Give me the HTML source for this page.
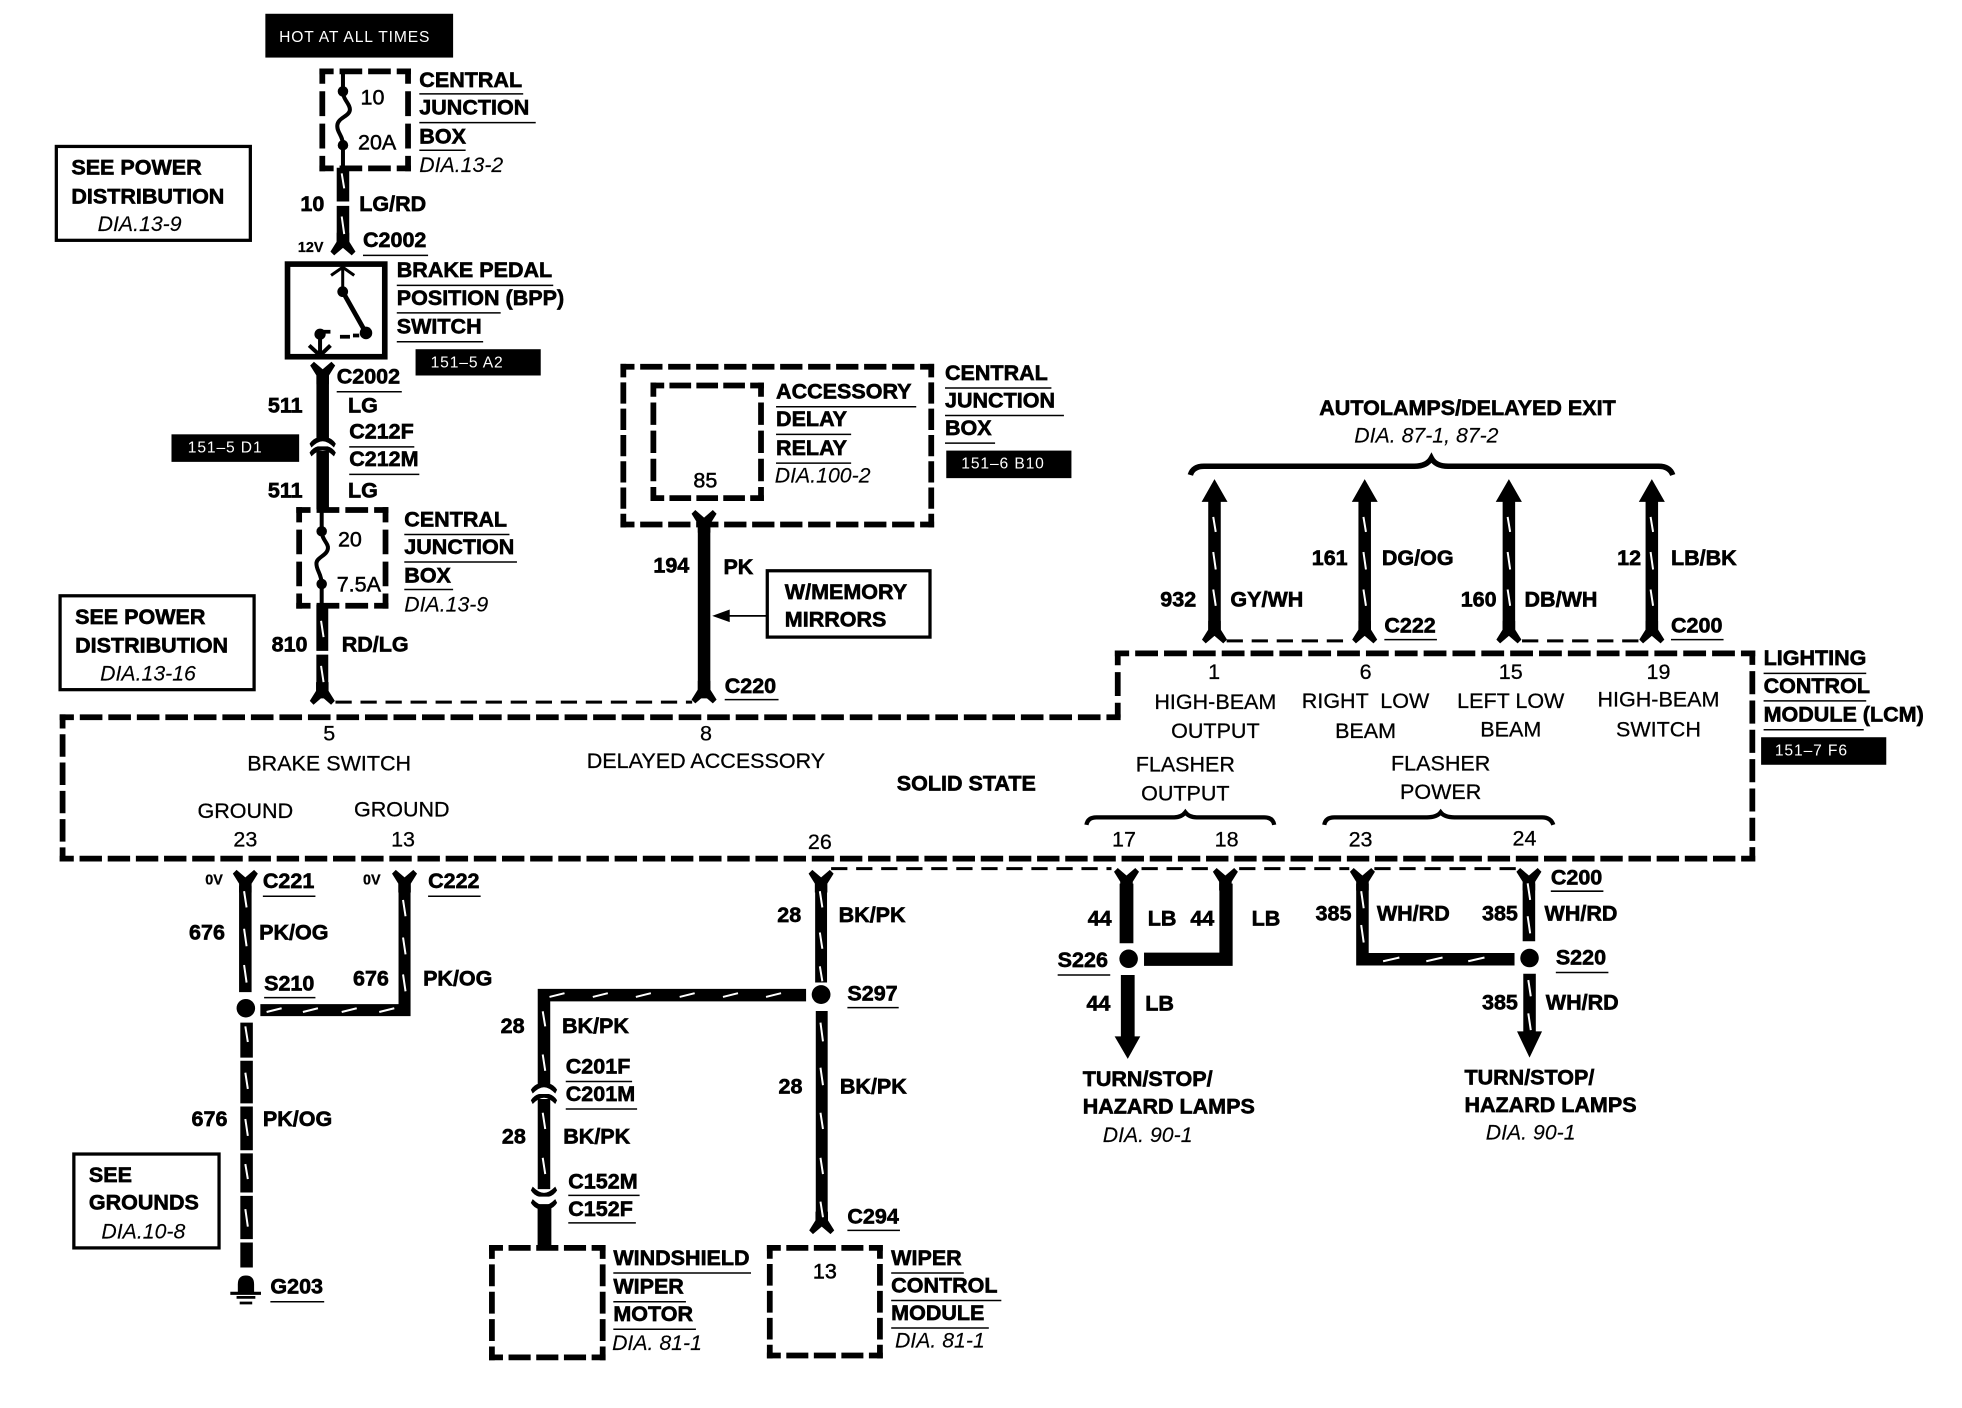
<!DOCTYPE html>
<html><head><meta charset="utf-8"><style>
html,body{margin:0;padding:0;background:#fff}
svg{display:block}
text{font-family:"Liberation Sans",sans-serif;font-size:17.2px;fill:#000;stroke:#000;stroke-width:.22px;transform:translate(0,-.5px)}
.b{font-weight:bold;stroke-width:.5px}
.i{font-style:italic;font-size:17px;stroke-width:.1px}
.c{text-anchor:middle}
.w{fill:#fff;stroke:none;font-size:12.5px;letter-spacing:.7px}
.s{font-weight:bold;font-size:11.5px}
.box{fill:none;stroke:#000;stroke-width:2.6}
.d{fill:none;stroke:#000;stroke-width:4.6;stroke-dasharray:13 9;stroke-dashoffset:6.5;stroke-linecap:square}
.t{fill:none;stroke:#000;stroke-width:2.4;stroke-dasharray:13 7}
.u{fill:none;stroke:#000;stroke-width:1.2}
.k{fill:none;stroke:#000;stroke-width:10}
.sl{fill:none;stroke:#fff;stroke-width:1.6}
.br{fill:none;stroke:#000;stroke-width:4.4}
.l{fill:none;stroke:#000;stroke-width:3.2}
</style></head><body>
<svg xmlns="http://www.w3.org/2000/svg" width="1962" height="1408" viewBox="0 0 1567.5 1124.9">
<defs>
<path id="f" d="M-10,-6 L-7,-9 L0,-3 L7,-9 L10,-6 L5,2 V9 H-5 V2Z"/>
<path id="con" d="M-10.5,3 Q-8,-1 -4,-2 H4 Q8,-1 10.5,3 L9,6 Q4,1 0,1 Q-4,1 -9,6Z"/>
</defs>
<rect width="1567.5" height="1124.9" fill="#fff"/>

<!-- black tags -->
<rect x="212" y="11" width="150" height="35"/><text class="w" x="223" y="34">HOT AT ALL TIMES</text>
<rect x="332" y="279" width="100" height="21"/><text class="w" x="344" y="294">151–5 A2</text>
<rect x="137" y="347" width="102" height="22"/><text class="w" x="150" y="362">151–5 D1</text>
<rect x="756" y="360" width="100" height="22"/><text class="w" x="768" y="375">151–6 B10</text>
<rect x="1407" y="589" width="100" height="22"/><text class="w" x="1418" y="604">151–7 F6</text>

<!-- see boxes -->
<rect class="box" x="45" y="117" width="155" height="75"/>
<text class="b" x="57" y="140">SEE POWER</text><text class="b" x="57" y="163">DISTRIBUTION</text><text class="i" x="78" y="185">DIA.13-9</text>
<rect class="box" x="48" y="476" width="155" height="75"/>
<text class="b" x="60" y="499">SEE POWER</text><text class="b" x="60" y="522">DISTRIBUTION</text><text class="i" x="80" y="544">DIA.13-16</text>
<rect class="box" x="59" y="922" width="116" height="75"/>
<text class="b" x="71" y="945">SEE</text><text class="b" x="71" y="967">GROUNDS</text><text class="i" x="81" y="990">DIA.10-8</text>
<rect class="box" x="613" y="456" width="130" height="53"/>
<text class="b" x="627" y="479">W/MEMORY</text><text class="b" x="627" y="501">MIRRORS</text>
<path d="M613,492H582" stroke="#000" stroke-width="1.4"/><path d="M569,492L583,487V497Z"/>

<!-- dashed boxes, each side drawn so dashes meet at corners -->
<path class="d" pathLength="66" d="M257.5,57H326"/><path class="d" pathLength="66" d="M326,57V134.5"/><path class="d" pathLength="66" d="M326,134.5H257.5"/><path class="d" pathLength="66" d="M257.5,134.5V57"/>
<path class="d" pathLength="66" d="M239,407.5H308"/><path class="d" pathLength="66" d="M308,407.5V484"/><path class="d" pathLength="66" d="M308,484H239"/><path class="d" pathLength="66" d="M239,484V407.5"/>
<path class="d" pathLength="242" d="M498,293H744"/><path class="d" pathLength="132" d="M744,293V419"/><path class="d" pathLength="242" d="M744,419H498"/><path class="d" pathLength="132" d="M498,419V293"/>
<path class="d" pathLength="88" d="M522,308H608"/><path class="d" pathLength="88" d="M608,308V398"/><path class="d" pathLength="88" d="M608,398H522"/><path class="d" pathLength="88" d="M522,398V308"/>
<path class="d" pathLength="88" d="M393,997H481.5"/><path class="d" pathLength="88" d="M481.5,997V1084.5"/><path class="d" pathLength="88" d="M481.5,1084.5H393"/><path class="d" pathLength="88" d="M393,1084.5V997"/>
<path class="d" pathLength="88" d="M615,997H703"/><path class="d" pathLength="88" d="M703,997V1083"/><path class="d" pathLength="88" d="M703,1083H615"/><path class="d" pathLength="88" d="M615,1083V997"/>
<!-- LCM outline -->
<path class="d" pathLength="44" d="M893,571V522"/><path class="d" pathLength="484" d="M893,522H1400"/><path class="d" pathLength="154" d="M1400,522V686"/><path class="d" pathLength="1320" d="M1400,686H50"/><path class="d" pathLength="110" d="M50,686V573"/><path class="d" pathLength="814" d="M50,573H893"/>

<!-- fuse 1 -->
<path class="l" d="M274,57V73M274,116V135"/>
<path class="l" d="M274,73C274,80 280,83 279.5,88C279,93 270,94 269.5,100C269,106 274,108 274,116"/>
<circle cx="274" cy="73" r="4.2"/><circle cx="274" cy="116" r="4.2"/>
<text x="288" y="84" style="stroke-width:.4px">10</text><text x="286" y="120" style="stroke-width:.4px">20A</text>
<text class="b" x="335" y="70">CENTRAL</text><path class="u" d="M335,75H418"/>
<text class="b" x="335" y="92">JUNCTION</text><path class="u" d="M335,98H428"/>
<text class="b" x="335" y="115">BOX</text><path class="u" d="M335,120H372"/>
<text class="i" x="335" y="138">DIA.13-2</text>

<!-- wire 10 -->
<path class="k" d="M274,134V161M274,164.5V198"/>
<use href="#f" transform="translate(274,195) scale(1,-1)"/>
<path class="sl" d="M273,138.5l2,12M273,173l2,14"/>
<text class="b" x="240" y="169">10</text><text class="b" x="287" y="169">LG/RD</text>
<text class="s" x="238" y="202">12V</text>
<text class="b" x="290" y="198">C2002</text><path class="u" d="M290,204H342"/>

<!-- BPP switch -->
<rect x="229.7" y="211" width="77.7" height="74" fill="none" stroke="#000" stroke-width="4.5"/>
<path d="M273.8,233V215M264.5,220L273.8,213.5L283,220" stroke="#000" stroke-width="2.4" fill="none"/>
<path d="M273.8,233L292.4,266" stroke="#000" stroke-width="3.8" fill="none"/>
<circle cx="273.8" cy="233" r="4.3"/><circle cx="292.4" cy="266" r="5"/>
<path d="M287,268H282M279.6,269H271.6M264,265H258" stroke="#000" stroke-width="3" fill="none"/>
<circle cx="255.7" cy="267" r="4.5"/><path d="M255.7,267V284M247,276L255.7,284L264,276" stroke="#000" stroke-width="3.2" fill="none"/>
<text class="b" x="317" y="222">BRAKE PEDAL</text><path class="u" d="M317,228H442"/>
<text class="b" x="317" y="244">POSITION (BPP)</text><path class="u" d="M317,250H400"/>
<text class="b" x="317" y="267">SWITCH</text><path class="u" d="M317,273H386"/>

<!-- wire 511 -->
<use href="#f" transform="translate(257.8,298)"/>
<path class="k" d="M257.8,300V352"/>
<use href="#con" transform="translate(257.8,351.5)"/>
<use href="#con" transform="translate(257.8,358.6)"/>
<path class="k" d="M257.8,360V407"/>
<text class="b" x="214" y="330">511</text><text class="b" x="278" y="330">LG</text>
<text class="b" x="269" y="307">C2002</text><path class="u" d="M269,313H321"/>
<text class="b" x="279" y="351">C212F</text><path class="u" d="M279,357H331"/>
<text class="b" x="279" y="373">C212M</text><path class="u" d="M279,379H335"/>
<text class="b" x="214" y="398">511</text><text class="b" x="278" y="398">LG</text>

<!-- fuse 2 -->
<path class="l" d="M257,407V424.5M257,467V484"/>
<path class="l" d="M257,424.5C257,431 262.5,434 262,438C261.5,444 253,445 252.8,450C252.6,456 257,458 257,467"/>
<circle cx="257" cy="424.5" r="4.2"/><circle cx="257" cy="466.6" r="4.2"/>
<text x="270" y="437" style="stroke-width:.4px">20</text><text x="269" y="473" style="stroke-width:.4px">7.5A</text>
<text class="b" x="323" y="421">CENTRAL</text><path class="u" d="M323,427H407"/>
<text class="b" x="323" y="443">JUNCTION</text><path class="u" d="M323,449H413"/>
<text class="b" x="323" y="466">BOX</text><path class="u" d="M323,471H362"/>
<text class="i" x="323" y="489">DIA.13-9</text>

<!-- wire 810 -->
<path class="k" style="stroke-width:9.5" d="M257.5,483V520M257.5,523V558"/>
<use href="#f" transform="translate(257.5,554) scale(1,-1)"/>
<path class="sl" d="M256.5,496l2,13M256.5,532l2,13"/>
<text class="b" x="217" y="521">810</text><text class="b" x="273" y="521">RD/LG</text>
<path class="t" d="M268,561H553"/>

<!-- wire 194 -->
<use href="#f" transform="translate(562.5,416.5)"/>
<path class="k" d="M562.5,420V558"/>
<use href="#f" transform="translate(562.5,553) scale(1,-1)"/>
<text x="554" y="390" style="stroke-width:.4px">85</text>
<text class="b" x="522" y="458">194</text><text class="b" x="578" y="459">PK</text>
<text class="b" x="579" y="554">C220</text><path class="u" d="M579,559H622"/>
<text class="b" x="620" y="319">ACCESSORY</text><path class="u" d="M620,325H732"/>
<text class="b" x="620" y="341">DELAY</text><path class="u" d="M620,347H680"/>
<text class="b" x="620" y="364">RELAY</text><path class="u" d="M620,370H680"/>
<text class="i" x="619" y="386">DIA.100-2</text>
<text class="b" x="755" y="304">CENTRAL</text><path class="u" d="M755,310H840"/>
<text class="b" x="755" y="326">JUNCTION</text><path class="u" d="M755,332H850"/>
<text class="b" x="755" y="348">BOX</text><path class="u" d="M755,354H795"/>

<!-- Autolamps -->
<text class="b" x="1054" y="332">AUTOLAMPS/DELAYED EXIT</text>
<text class="i" x="1082" y="354">DIA. 87-1, 87-2</text>
<path class="br" d="M951,379.5Q953,372.5 962,372.5H1130Q1140,372.5 1143.6,366Q1147,372.5 1157,372.5H1325Q1334,372.5 1336.4,379.5"/>
<path d="M970.3,382.8L980.7,401H975.3V508H965.3V401H960Z"/>
<path d="M1090.3,382.8L1100.7,401H1095.3V508H1085.3V401H1080Z"/>
<path d="M1205.5,382.8L1215.9,401H1210.5V508H1200.5V401H1195Z"/>
<path d="M1319.7,382.8L1330.1,401H1324.7V508H1314.7V401H1309.3Z"/>
<use href="#f" transform="translate(970.3,505) scale(1,-1)"/>
<use href="#f" transform="translate(1090.3,505) scale(1,-1)"/>
<use href="#f" transform="translate(1205.5,505) scale(1,-1)"/>
<use href="#f" transform="translate(1319.7,505) scale(1,-1)"/>
<path class="sl" d="M969.3,413l2,12M969.3,441l2,14M969.3,471l2,13M1089.3,413l2,12M1089.3,441l2,14M1089.3,471l2,13M1204.5,413l2,12M1204.5,441l2,14M1204.5,471l2,13M1318.7,413l2,12M1318.7,441l2,14M1318.7,471l2,13"/>
<path class="t" d="M980,512H1080M1216,512H1309"/>
<text class="b" x="927" y="485">932</text><text class="b" x="983" y="485">GY/WH</text>
<text class="b" x="1048" y="452">161</text><text class="b" x="1104" y="452">DG/OG</text>
<text class="b" x="1106" y="506">C222</text><path class="u" d="M1106,511H1148"/>
<text class="b" x="1167" y="485">160</text><text class="b" x="1218" y="485">DB/WH</text>
<text class="b" x="1292" y="452">12</text><text class="b" x="1335" y="452">LB/BK</text>
<text class="b" x="1335" y="506">C200</text><path class="u" d="M1335,511H1377"/>

<!-- LCM text top -->
<text class="c" x="970" y="543">1</text><text class="c" x="1091" y="543">6</text><text class="c" x="1207" y="543">15</text><text class="c" x="1325" y="543">19</text>
<text class="c" x="971" y="567">HIGH-BEAM</text><text class="c" x="971" y="590">OUTPUT</text>
<text class="c" x="1091" y="566" xml:space="preserve">RIGHT  LOW</text><text class="c" x="1091" y="590">BEAM</text>
<text class="c" x="1207" y="566">LEFT LOW</text><text class="c" x="1207" y="589">BEAM</text>
<text class="c" x="1325" y="565">HIGH-BEAM</text><text class="c" x="1325" y="589">SWITCH</text>
<text class="c" x="947" y="617">FLASHER</text><text class="c" x="947" y="640">OUTPUT</text>
<text class="c" x="1151" y="616">FLASHER</text><text class="c" x="1151" y="639">POWER</text>
<path class="br" style="stroke-width:3.4" d="M868,659Q869,653 876,653H938Q944,653 947,649Q950,653 956,653H1010Q1017,653 1018,659"/>
<path class="br" style="stroke-width:3.4" d="M1058,659Q1059,653 1066,653H1140Q1148,653 1151,649Q1154,653 1162,653H1232Q1239,653 1241,659"/>
<text class="c" x="898" y="677">17</text><text class="c" x="980" y="677">18</text><text class="c" x="1087" y="677">23</text><text class="c" x="1218" y="676">24</text>
<text class="b" x="1409" y="532">LIGHTING</text><path class="u" d="M1409,538H1491"/>
<text class="b" x="1409" y="554">CONTROL</text><path class="u" d="M1409,560H1491"/>
<text class="b" x="1409" y="577">MODULE (LCM)</text><path class="u" d="M1409,583H1489"/>

<text class="c" x="263" y="592">5</text><text class="c" x="263" y="616">BRAKE SWITCH</text>
<text class="c" x="564" y="592">8</text><text class="c" x="564" y="614">DELAYED ACCESSORY</text>
<text class="b c" x="772" y="632">SOLID STATE</text>
<text class="c" x="196" y="654">GROUND</text><text class="c" x="321" y="653">GROUND</text>
<text class="c" x="196" y="677">23</text><text class="c" x="322" y="677">13</text><text class="c" x="655" y="679">26</text>

<!-- ground wires -->
<use href="#f" transform="translate(196,704)"/>
<path class="k" d="M196,708V792.6"/>
<circle cx="196.4" cy="805.5" r="7.4"/>
<path class="k" d="M197,817V845M197,847.5V881.5M197,884V919M197,921.5V952.7M197,955.4V990M197,992.7V1012.6"/>
<use href="#f" transform="translate(323.2,704)"/>
<path class="k" style="stroke-width:9.6" d="M323.2,708V807H208"/>
<path class="sl" d="M195,712l2,13M195,742l2,14M195,771l2,14M196,820l2,12.5M196,857l2,13M196,894l2,13.5M196,930l2,12M196,966l2,14M322,719l2,13M322,749l2,13.5M322,778.5l2,13.5"/>
<path class="sl" d="M213,808.5l12,-3M242,808.5l12,-3M273,808.5l12,-3M303,808.5l12,-3"/>
<text class="s" x="164" y="707">0V</text><text class="s" x="290" y="707">0V</text>
<text class="b" x="210" y="710">C221</text><path class="u" d="M210,716H252"/>
<text class="b" x="342" y="710">C222</text><path class="u" d="M342,716H384"/>
<text class="b" x="151" y="751">676</text><text class="b" x="207" y="751">PK/OG</text>
<text class="b" x="211" y="792">S210</text><path class="u" d="M211,797H252"/>
<text class="b" x="282" y="788">676</text><text class="b" x="338" y="788">PK/OG</text>
<text class="b" x="153" y="900">676</text><text class="b" x="210" y="900">PK/OG</text>
<path d="M190,1032V1026Q190,1019 196.5,1019Q203,1019 203,1026V1032H208.5V1034.5H184V1032Z"/>
<path d="M189,1036.5H204M191.5,1041H201.5" stroke="#000" stroke-width="2.2"/>
<text class="b" x="216" y="1034">G203</text><path class="u" d="M216,1040H259"/>

<!-- 28 wires -->
<use href="#f" transform="translate(656,704)"/>
<path class="k" style="stroke-width:9.5" d="M656,708V785M656.5,807.7V978"/>
<use href="#f" transform="translate(656.5,977) scale(1,-1)"/>
<circle cx="656" cy="794.6" r="7.5"/>
<path class="k" d="M644,795H434.6V868"/>
<use href="#con" transform="translate(434.6,867.6)"/>
<use href="#con" transform="translate(434.6,876)"/>
<path class="k" d="M434.6,878V950"/>
<use href="#con" transform="translate(434.6,954) scale(1,-1)"/>
<use href="#con" transform="translate(434.6,964) scale(1,-1)"/>
<path class="k" style="stroke-width:11" d="M435,962V998"/>
<path class="sl" d="M655,712l2,13M655,745l2,13M655,772l2,12M655.5,817l2,15M655.5,853l2,14M655.5,889l2,13M655.5,925l2,13M655.5,960l2,12.5"/>
<path class="sl" d="M439,796.5l12,-3M473.6,796.5l12,-3M508,796.5l12,-3M543,796.5l12,-3M577.6,796.5l12,-3M612,796.5l12,-3"/>
<path class="sl" d="M433.6,808l2,12M433.6,842.5l2,13M433.6,889l2,13M433.6,925l2,13"/>
<text class="b" x="621" y="737">28</text><text class="b" x="670" y="737">BK/PK</text>
<text class="b" x="677" y="800">S297</text><path class="u" d="M677,805H718"/>
<text class="b" x="622" y="874">28</text><text class="b" x="671" y="874">BK/PK</text>
<text class="b" x="677" y="978">C294</text><path class="u" d="M677,983H719"/>
<text class="b" x="400" y="826">28</text><text class="b" x="449" y="826">BK/PK</text>
<text class="b" x="452" y="858">C201F</text><path class="u" d="M452,864H505"/>
<text class="b" x="452" y="880">C201M</text><path class="u" d="M452,886H509"/>
<text class="b" x="401" y="914">28</text><text class="b" x="450" y="914">BK/PK</text>
<text class="b" x="454" y="950">C152M</text><path class="u" d="M454,955H511"/>
<text class="b" x="454" y="972">C152F</text><path class="u" d="M454,977H508"/>
<text class="b" x="490" y="1011">WINDSHIELD</text><path class="u" d="M490,1017H600"/>
<text class="b" x="490" y="1034">WIPER</text><path class="u" d="M490,1040H548"/>
<text class="b" x="490" y="1056">MOTOR</text><path class="u" d="M490,1062H556"/>
<text class="i" x="489" y="1079">DIA. 81-1</text>
<text class="c" x="659" y="1022" style="stroke-width:.4px">13</text>
<text class="b" x="712" y="1011">WIPER</text><path class="u" d="M712,1017H770"/>
<text class="b" x="712" y="1033">CONTROL</text><path class="u" d="M712,1039H800"/>
<text class="b" x="712" y="1055">MODULE</text><path class="u" d="M712,1061H790"/>
<text class="i" x="715" y="1077">DIA. 81-1</text>

<!-- flasher wires -->
<path class="t" d="M664,694H888M912,694H968M990,694H1078M1098,694H1211"/>
<use href="#f" transform="translate(900,702.5)"/>
<path class="k" style="stroke-width:11" d="M900,706V753.6M901,779V830"/>
<path d="M890.5,828H911L901,846Z"/>
<circle cx="901.7" cy="766" r="7.4"/>
<use href="#f" transform="translate(979,702.5)"/>
<path class="k" style="stroke-width:10.6" d="M914,766.4H979.5V706"/>
<use href="#f" transform="translate(1088.5,702.5)"/>
<path class="k" d="M1088.5,706V766.4H1210"/>
<use href="#f" transform="translate(1221.5,702.5)"/>
<path class="k" d="M1221.5,706V752M1222,778V826"/>
<path d="M1212,824H1232L1222,845Z"/>
<circle cx="1222" cy="765.4" r="7.4"/>
<path class="sl" d="M1087.5,712l2,13.6M1087.5,739l2,14M1220.5,705.7l2,13.3M1220.5,732l2,13.7M1221,783l2,13M1221,809.6l2,13.4"/>
<path class="sl" d="M1105,768l13,-3M1139.5,768l13,-3M1173,768l13,-3"/>
<text class="b" x="869" y="740">44</text><text class="b" x="917" y="740">LB</text>
<text class="b" x="951" y="740">44</text><text class="b" x="1000" y="740">LB</text>
<text class="b" x="845" y="773">S226</text><path class="u" d="M845,779H887"/>
<text class="b" x="868" y="808">44</text><text class="b" x="915" y="808">LB</text>
<text class="b" x="865" y="868">TURN/STOP/</text><text class="b" x="865" y="890">HAZARD LAMPS</text><text class="i" x="881" y="913">DIA. 90-1</text>
<text class="b" x="1239" y="707">C200</text><path class="u" d="M1239,712H1281"/>
<text class="b" x="1051" y="736">385</text><text class="b" x="1100" y="736">WH/RD</text>
<text class="b" x="1184" y="736">385</text><text class="b" x="1234" y="736">WH/RD</text>
<text class="b" x="1243" y="771">S220</text><path class="u" d="M1243,777H1285"/>
<text class="b" x="1184" y="807">385</text><text class="b" x="1235" y="807">WH/RD</text>
<text class="b" x="1170" y="867">TURN/STOP/</text><text class="b" x="1170" y="889">HAZARD LAMPS</text><text class="i" x="1187" y="911">DIA. 90-1</text>
</svg>
</body></html>
